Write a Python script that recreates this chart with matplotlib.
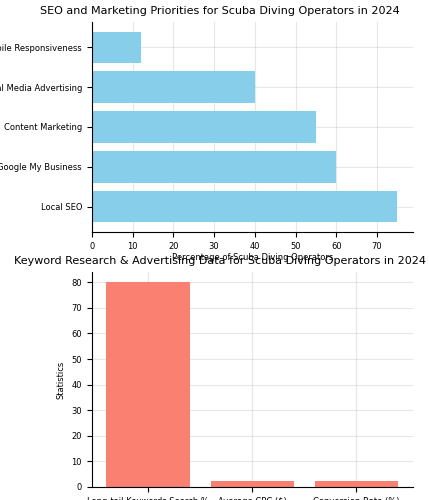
import matplotlib.pyplot as plt

# SEO priorities
channels = ['Local SEO', 'Google My Business', 'Content Marketing',
            'Social Media Advertising', 'Mobile Responsiveness']
share = [75, 60, 55, 40, 12]

# keyword / ad stats
metrics = ['Long-tail Keywords Search %', 'Average CPC ($)', 'Conversion Rate (%)']
values = [80, 2.5, 2.5]

fig = plt.figure(figsize=(4.29, 5.0), dpi=100)
ax1 = fig.add_axes([0.214, 0.536, 0.748, 0.42])
ax2 = fig.add_axes([0.214, 0.026, 0.748, 0.43])

ax1.barh(channels, share, color='skyblue')
ax1.set_title('SEO and Marketing Priorities for Scuba Diving Operators in 2024', fontsize=8, x=0.4)
ax1.set_xlabel('Percentage of Scuba Diving Operators', fontsize=6, labelpad=2)
ax1.tick_params(labelsize=6)
ax1.grid(True, alpha=0.3)
ax1.set_axisbelow(True)
for s in ['top', 'right']:
    ax1.spines[s].set_visible(False)

ax2.bar(metrics, values, color='salmon')
ax2.set_title('Keyword Research & Advertising Data for Scuba Diving Operators in 2024', fontsize=8, x=0.4)
ax2.set_ylabel('Statistics', fontsize=6)
ax2.tick_params(labelsize=6)
ax2.grid(True, alpha=0.3)
ax2.set_axisbelow(True)
for s in ['top', 'right']:
    ax2.spines[s].set_visible(False)

plt.savefig('out.png')
